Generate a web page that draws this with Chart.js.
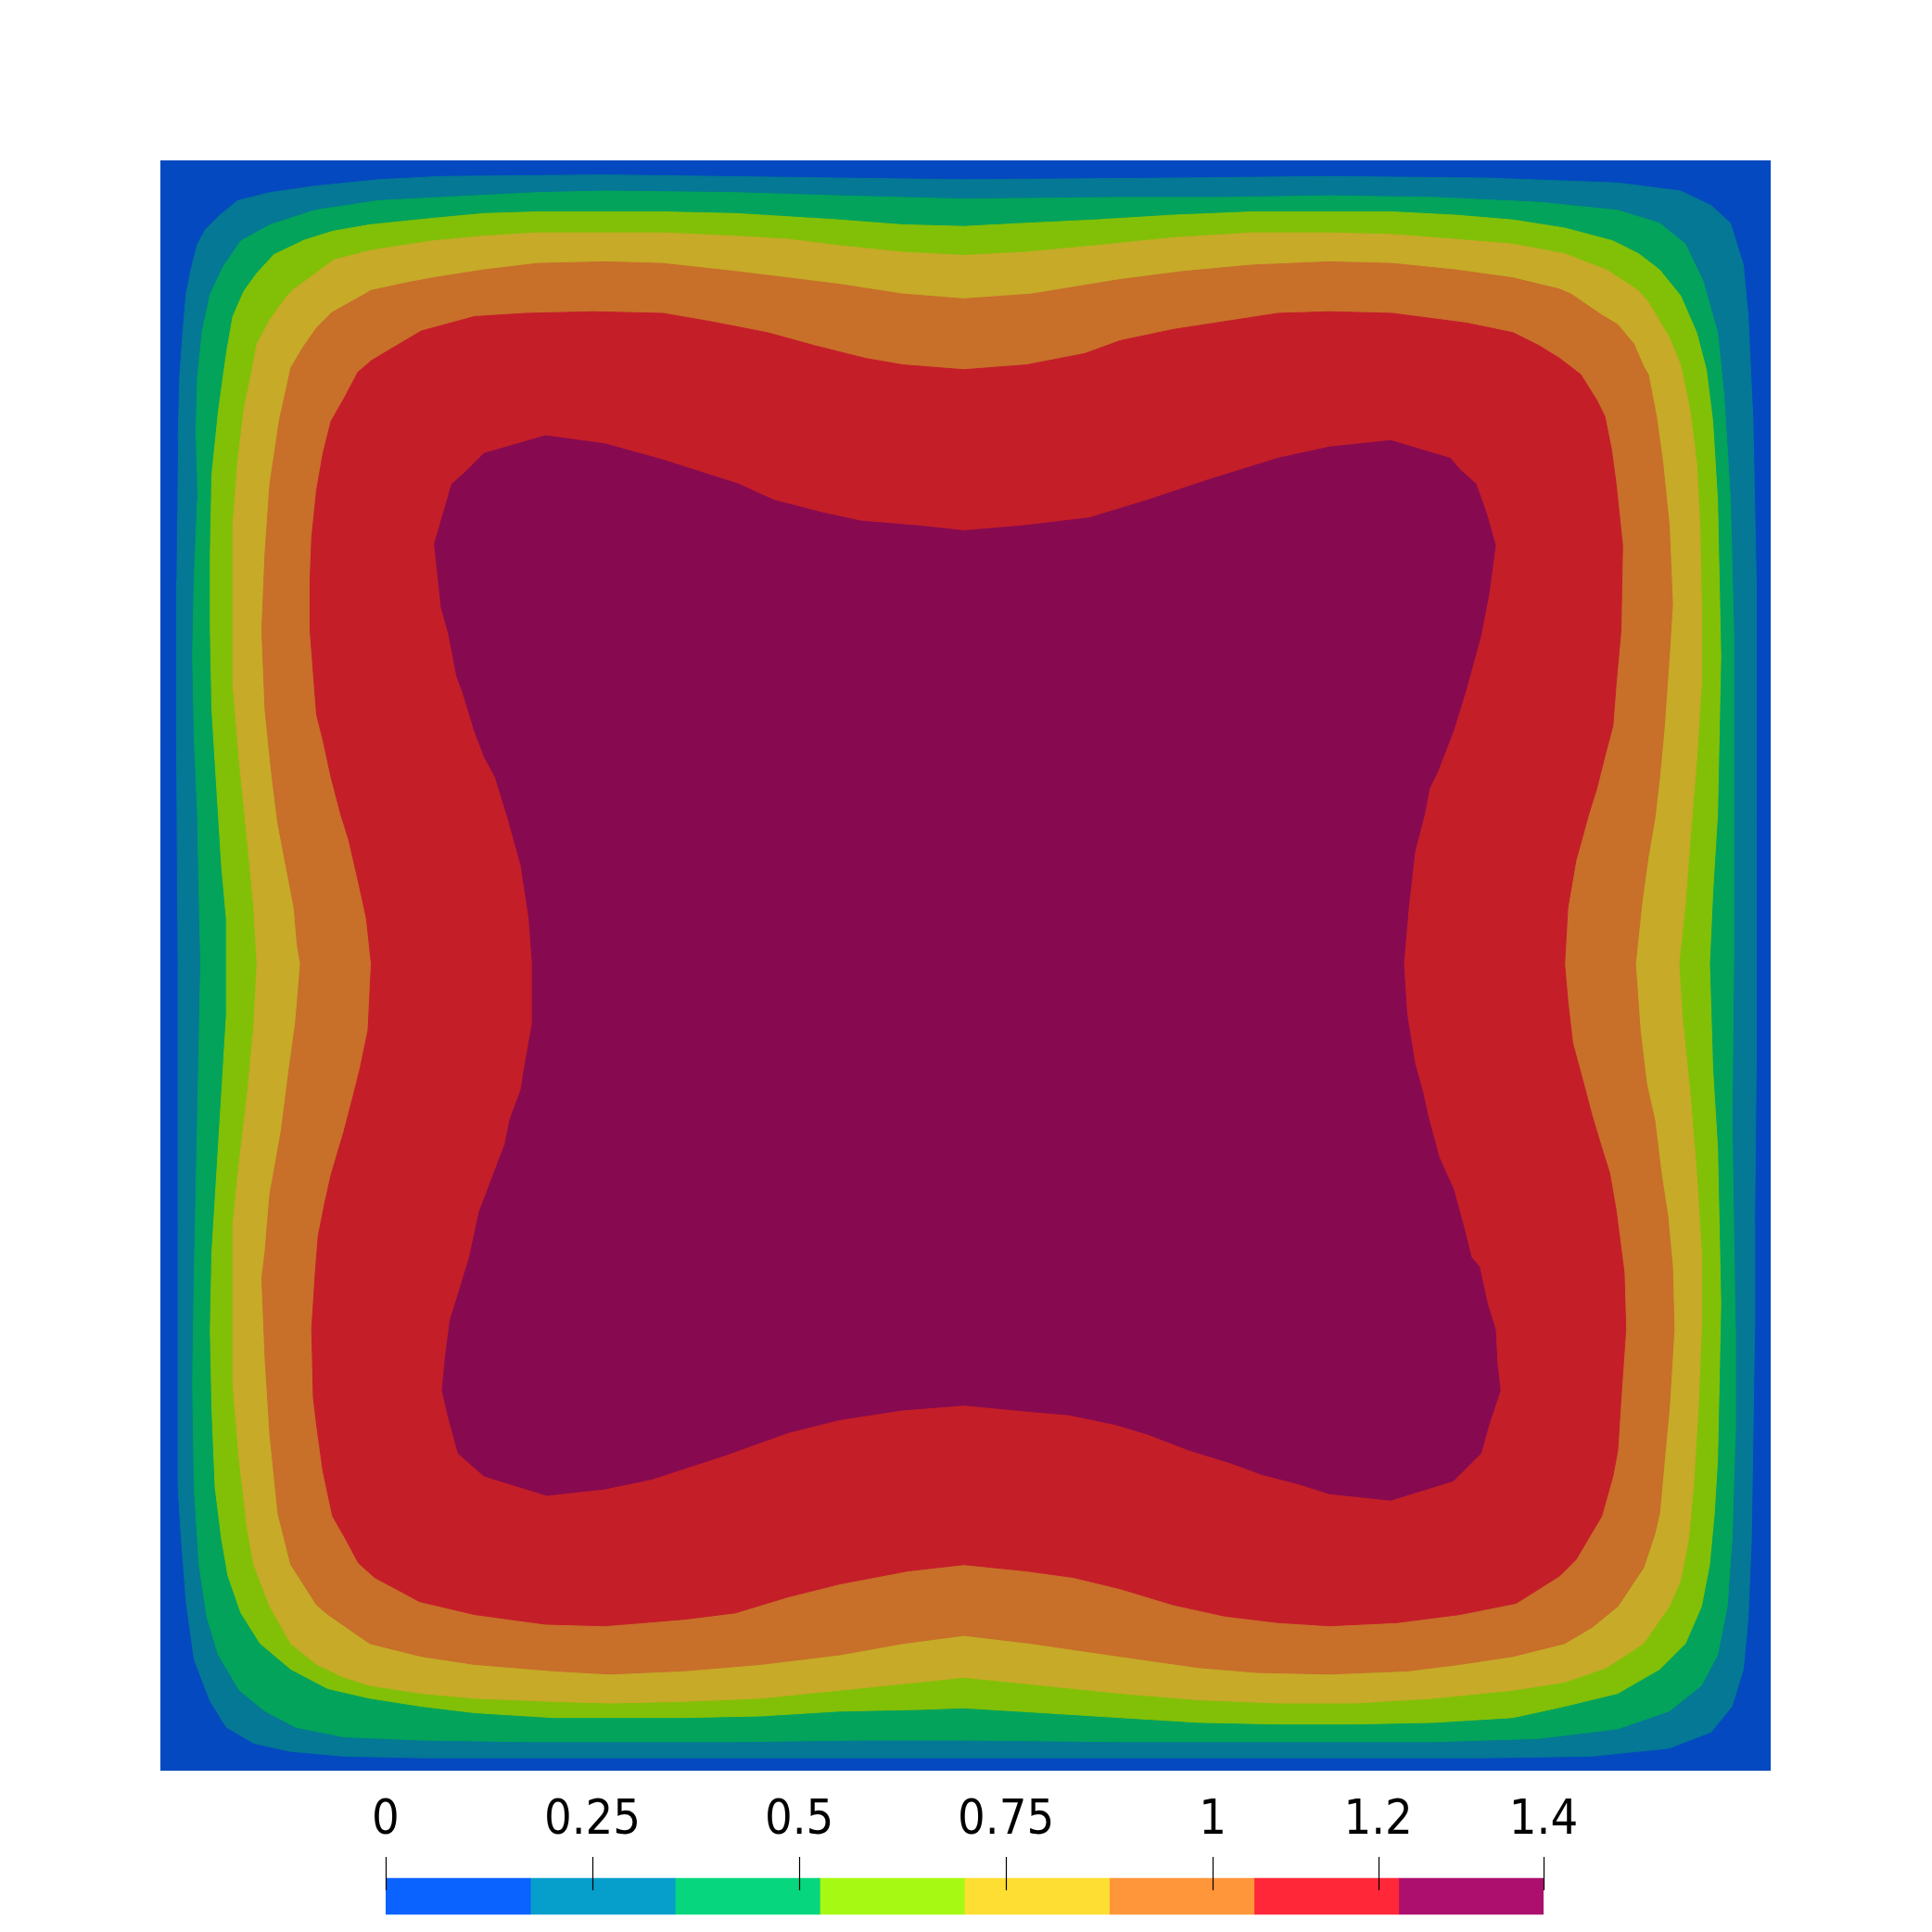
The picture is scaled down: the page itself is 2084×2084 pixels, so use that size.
<!DOCTYPE html>
<html>
<head>
<meta charset="utf-8">
<script src="https://cdn.jsdelivr.net/npm/chart.js@4.4.1/dist/chart.umd.min.js"></script>
<style>
  html, body { margin: 0; background: #fff; overflow: hidden; }
  #page { position: relative; width: 2084px; height: 2084px; }
  #field { position: absolute; left: 173px; top: 173px; }
  #bar { position: absolute; left: 316px; top: 1930px; }
</style>
</head>
<body>
<div id="page">
  <canvas id="field" width="1737" height="1737"></canvas>
  <canvas id="bar" width="1449" height="154"></canvas>
</div>
<script>
// contour levels (8 bins from 0 to 1.4)
const levels = [0, 0.175, 0.35, 0.525, 0.7, 0.875, 1.05, 1.225, 1.4];
const tickValues = [0, 0.25, 0.5, 0.75, 1, 1.2, 1.4];
const tickLabels = ['0', '0.25', '0.5', '0.75', '1', '1.2', '1.4'];

// shaded colours on the surface, and the plain ones in the colour bar
const bandColors = ['#0449bf', '#047894', '#03a35b', '#82c007', '#c6aa28', '#c86f29', '#c41e29', '#870a50'];
const barColors = ['#0a62ff', '#069ecb', '#06d67e', '#a6f912', '#ffde33', '#ff963a', '#ff2738', '#ac0f6d'];

const domain = [[0, 0], [0, 1], [1, 1], [1, 0]];

const contour0175 = [[0.011,0.826],[0.012,0.865],[0.014,0.894],[0.016,0.917],[0.019,0.932],[0.023,0.948],[0.028,0.957],[0.037,0.966],[0.048,0.975],[0.068,0.980],[0.096,0.984],[0.135,0.988],[0.174,0.990],[0.276,0.991],[0.422,0.989],[0.499,0.988],[0.629,0.989],[0.726,0.990],[0.824,0.989],[0.905,0.986],[0.944,0.981],[0.963,0.972],[0.975,0.961],[0.983,0.935],[0.986,0.903],[0.989,0.838],[0.991,0.740],[0.991,0.610],[0.991,0.501],[0.991,0.436],[0.990,0.339],[0.990,0.274],[0.989,0.209],[0.988,0.144],[0.986,0.095],[0.983,0.063],[0.976,0.040],[0.963,0.024],[0.937,0.014],[0.889,0.009],[0.824,0.008],[0.726,0.008],[0.596,0.008],[0.499,0.008],[0.357,0.008],[0.260,0.008],[0.162,0.008],[0.114,0.009],[0.081,0.012],[0.058,0.017],[0.041,0.027],[0.031,0.043],[0.021,0.069],[0.016,0.105],[0.013,0.144],[0.011,0.176],[0.011,0.274],[0.011,0.404],[0.011,0.501],[0.010,0.643],[0.010,0.740]];

const contour0350 = [[0.022,0.826],[0.023,0.865],[0.026,0.894],[0.031,0.917],[0.039,0.934],[0.050,0.950],[0.068,0.960],[0.096,0.969],[0.135,0.975],[0.174,0.977],[0.234,0.980],[0.276,0.981],[0.357,0.980],[0.422,0.978],[0.461,0.977],[0.499,0.976],[0.596,0.977],[0.661,0.977],[0.726,0.978],[0.791,0.977],[0.856,0.974],[0.905,0.969],[0.931,0.961],[0.947,0.948],[0.958,0.925],[0.967,0.893],[0.971,0.854],[0.975,0.789],[0.977,0.708],[0.977,0.610],[0.977,0.501],[0.976,0.404],[0.977,0.339],[0.978,0.274],[0.978,0.209],[0.976,0.144],[0.973,0.102],[0.967,0.072],[0.957,0.053],[0.937,0.037],[0.905,0.026],[0.856,0.020],[0.791,0.018],[0.694,0.018],[0.596,0.018],[0.499,0.019],[0.438,0.019],[0.357,0.018],[0.292,0.018],[0.227,0.018],[0.162,0.019],[0.114,0.021],[0.084,0.027],[0.065,0.037],[0.049,0.050],[0.036,0.072],[0.029,0.095],[0.024,0.128],[0.021,0.176],[0.020,0.241],[0.021,0.306],[0.023,0.404],[0.025,0.501],[0.024,0.545],[0.023,0.594],[0.021,0.643],[0.020,0.692],[0.021,0.740],[0.023,0.789]];

const contour0525 = [[0.088,0.950],[0.107,0.956],[0.130,0.960],[0.169,0.964],[0.201,0.967],[0.234,0.968],[0.276,0.968],[0.312,0.968],[0.357,0.967],[0.390,0.965],[0.422,0.963],[0.461,0.960],[0.499,0.959],[0.538,0.961],[0.580,0.963],[0.629,0.966],[0.678,0.968],[0.726,0.968],[0.765,0.968],[0.804,0.966],[0.840,0.963],[0.872,0.958],[0.902,0.950],[0.918,0.942],[0.931,0.932],[0.944,0.916],[0.954,0.893],[0.960,0.870],[0.964,0.838],[0.967,0.789],[0.968,0.740],[0.969,0.692],[0.968,0.643],[0.967,0.594],[0.964,0.545],[0.962,0.501],[0.964,0.436],[0.967,0.387],[0.968,0.339],[0.969,0.290],[0.968,0.241],[0.967,0.193],[0.965,0.160],[0.962,0.128],[0.957,0.102],[0.947,0.079],[0.931,0.063],[0.905,0.048],[0.872,0.040],[0.840,0.033],[0.791,0.030],[0.742,0.029],[0.694,0.029],[0.645,0.030],[0.596,0.033],[0.548,0.036],[0.499,0.039],[0.471,0.038],[0.422,0.037],[0.373,0.034],[0.325,0.033],[0.279,0.033],[0.244,0.033],[0.195,0.036],[0.162,0.040],[0.130,0.045],[0.104,0.051],[0.081,0.063],[0.062,0.079],[0.050,0.098],[0.042,0.121],[0.038,0.144],[0.034,0.176],[0.032,0.225],[0.031,0.274],[0.032,0.322],[0.035,0.371],[0.038,0.420],[0.041,0.469],[0.041,0.501],[0.041,0.529],[0.038,0.562],[0.035,0.610],[0.032,0.659],[0.031,0.708],[0.031,0.756],[0.032,0.805],[0.036,0.844],[0.041,0.880],[0.045,0.903],[0.052,0.919],[0.060,0.930],[0.071,0.942]];

const contour0700 = [[0.107,0.938],[0.130,0.944],[0.169,0.950],[0.201,0.953],[0.234,0.955],[0.276,0.955],[0.312,0.955],[0.357,0.953],[0.390,0.951],[0.422,0.947],[0.461,0.943],[0.499,0.941],[0.538,0.943],[0.580,0.947],[0.629,0.952],[0.678,0.955],[0.726,0.955],[0.765,0.954],[0.804,0.951],[0.840,0.948],[0.872,0.942],[0.898,0.932],[0.918,0.919],[0.924,0.912],[0.937,0.890],[0.944,0.873],[0.950,0.844],[0.954,0.812],[0.956,0.773],[0.957,0.724],[0.957,0.675],[0.954,0.627],[0.950,0.578],[0.947,0.539],[0.943,0.501],[0.945,0.469],[0.950,0.420],[0.954,0.371],[0.957,0.322],[0.957,0.274],[0.955,0.225],[0.952,0.176],[0.949,0.144],[0.944,0.118],[0.937,0.102],[0.921,0.079],[0.898,0.064],[0.872,0.055],[0.840,0.050],[0.791,0.045],[0.742,0.042],[0.694,0.042],[0.645,0.044],[0.596,0.048],[0.548,0.053],[0.499,0.058],[0.471,0.055],[0.422,0.050],[0.373,0.045],[0.325,0.043],[0.279,0.042],[0.244,0.043],[0.195,0.045],[0.162,0.048],[0.130,0.053],[0.114,0.058],[0.097,0.066],[0.081,0.079],[0.068,0.102],[0.058,0.128],[0.054,0.150],[0.049,0.193],[0.045,0.241],[0.045,0.290],[0.045,0.339],[0.049,0.378],[0.054,0.420],[0.058,0.462],[0.060,0.501],[0.058,0.536],[0.054,0.578],[0.049,0.627],[0.045,0.675],[0.045,0.724],[0.045,0.773],[0.048,0.812],[0.052,0.846],[0.057,0.870],[0.060,0.886],[0.068,0.901],[0.078,0.915],[0.084,0.921]];

const contour0875 = [[0.130,0.919],[0.153,0.924],[0.169,0.927],[0.201,0.932],[0.234,0.936],[0.276,0.937],[0.312,0.936],[0.357,0.931],[0.390,0.927],[0.422,0.923],[0.461,0.917],[0.499,0.914],[0.541,0.917],[0.596,0.926],[0.635,0.931],[0.678,0.935],[0.726,0.937],[0.765,0.936],[0.804,0.932],[0.840,0.927],[0.869,0.920],[0.876,0.917],[0.895,0.904],[0.905,0.898],[0.915,0.886],[0.921,0.872],[0.924,0.867],[0.929,0.841],[0.933,0.812],[0.937,0.773],[0.939,0.724],[0.937,0.692],[0.934,0.649],[0.931,0.617],[0.928,0.591],[0.924,0.568],[0.920,0.539],[0.916,0.501],[0.919,0.459],[0.923,0.426],[0.928,0.404],[0.932,0.371],[0.936,0.345],[0.939,0.313],[0.940,0.274],[0.937,0.225],[0.934,0.193],[0.931,0.160],[0.928,0.147],[0.921,0.126],[0.905,0.102],[0.889,0.089],[0.872,0.079],[0.840,0.071],[0.807,0.066],[0.775,0.062],[0.726,0.060],[0.681,0.061],[0.645,0.064],[0.596,0.071],[0.541,0.079],[0.499,0.084],[0.461,0.079],[0.422,0.072],[0.373,0.066],[0.325,0.062],[0.279,0.060],[0.244,0.062],[0.195,0.066],[0.162,0.071],[0.130,0.079],[0.104,0.097],[0.097,0.103],[0.081,0.128],[0.073,0.160],[0.068,0.209],[0.065,0.257],[0.063,0.306],[0.065,0.322],[0.068,0.358],[0.075,0.397],[0.080,0.436],[0.084,0.465],[0.087,0.501],[0.085,0.513],[0.083,0.536],[0.078,0.562],[0.073,0.588],[0.069,0.620],[0.065,0.659],[0.063,0.708],[0.065,0.756],[0.068,0.799],[0.074,0.839],[0.078,0.857],[0.081,0.871],[0.088,0.883],[0.097,0.896],[0.107,0.906]];

const contour1050 = [[0.130,0.875],[0.140,0.881],[0.162,0.894],[0.195,0.903],[0.227,0.905],[0.269,0.906],[0.312,0.905],[0.341,0.900],[0.377,0.893],[0.406,0.885],[0.438,0.877],[0.461,0.873],[0.499,0.870],[0.538,0.873],[0.574,0.880],[0.596,0.888],[0.629,0.895],[0.655,0.899],[0.694,0.905],[0.726,0.906],[0.765,0.905],[0.811,0.899],[0.840,0.893],[0.856,0.885],[0.869,0.877],[0.882,0.867],[0.892,0.851],[0.897,0.841],[0.901,0.821],[0.904,0.799],[0.908,0.761],[0.907,0.708],[0.904,0.675],[0.902,0.649],[0.897,0.630],[0.892,0.610],[0.887,0.594],[0.879,0.565],[0.874,0.536],[0.872,0.501],[0.874,0.478],[0.877,0.452],[0.884,0.426],[0.889,0.407],[0.895,0.387],[0.900,0.371],[0.904,0.348],[0.909,0.309],[0.910,0.274],[0.907,0.231],[0.905,0.199],[0.902,0.183],[0.895,0.158],[0.879,0.131],[0.869,0.121],[0.842,0.104],[0.807,0.097],[0.768,0.092],[0.726,0.090],[0.694,0.092],[0.661,0.096],[0.629,0.103],[0.596,0.113],[0.567,0.120],[0.538,0.124],[0.499,0.128],[0.464,0.124],[0.422,0.116],[0.390,0.108],[0.357,0.098],[0.325,0.094],[0.276,0.090],[0.239,0.091],[0.195,0.097],[0.161,0.105],[0.133,0.120],[0.123,0.129],[0.115,0.144],[0.107,0.158],[0.101,0.186],[0.097,0.215],[0.095,0.232],[0.094,0.274],[0.096,0.306],[0.098,0.332],[0.102,0.352],[0.106,0.370],[0.114,0.397],[0.120,0.420],[0.124,0.436],[0.129,0.460],[0.131,0.501],[0.128,0.529],[0.123,0.552],[0.117,0.578],[0.112,0.594],[0.106,0.617],[0.101,0.640],[0.097,0.656],[0.095,0.682],[0.093,0.708],[0.093,0.740],[0.094,0.766],[0.097,0.795],[0.101,0.818],[0.106,0.838],[0.114,0.852],[0.123,0.869]];

const contour1225 = [[0.170,0.761],[0.181,0.799],[0.189,0.806],[0.201,0.818],[0.239,0.829],[0.276,0.824],[0.312,0.814],[0.359,0.799],[0.381,0.789],[0.412,0.781],[0.435,0.776],[0.471,0.773],[0.499,0.770],[0.535,0.773],[0.577,0.778],[0.613,0.789],[0.652,0.802],[0.694,0.815],[0.726,0.822],[0.764,0.826],[0.801,0.815],[0.807,0.808],[0.817,0.799],[0.824,0.779],[0.829,0.761],[0.825,0.731],[0.820,0.705],[0.811,0.672],[0.803,0.646],[0.793,0.620],[0.788,0.610],[0.785,0.594],[0.779,0.571],[0.775,0.536],[0.772,0.501],[0.774,0.470],[0.779,0.439],[0.784,0.421],[0.787,0.407],[0.794,0.381],[0.803,0.361],[0.809,0.339],[0.814,0.319],[0.819,0.313],[0.824,0.290],[0.829,0.274],[0.830,0.254],[0.832,0.236],[0.825,0.215],[0.820,0.197],[0.803,0.180],[0.764,0.168],[0.726,0.172],[0.707,0.178],[0.684,0.184],[0.665,0.191],[0.639,0.199],[0.613,0.209],[0.593,0.215],[0.564,0.221],[0.541,0.223],[0.499,0.227],[0.461,0.224],[0.422,0.218],[0.390,0.210],[0.351,0.196],[0.305,0.181],[0.276,0.175],[0.240,0.171],[0.201,0.183],[0.185,0.197],[0.179,0.219],[0.175,0.236],[0.177,0.257],[0.180,0.280],[0.185,0.296],[0.192,0.319],[0.198,0.347],[0.214,0.389],[0.217,0.404],[0.224,0.423],[0.226,0.436],[0.231,0.464],[0.231,0.501],[0.229,0.529],[0.224,0.562],[0.216,0.591],[0.208,0.617],[0.201,0.630],[0.195,0.646],[0.188,0.669],[0.184,0.680],[0.179,0.706],[0.174,0.724]];

// outermost first; each one is painted over the previous
const bands = [domain, contour0175, contour0350, contour0525, contour0700, contour0875, contour1050, contour1225];

// chart.js paints dataset 0 last, so the innermost band goes first
const fieldDatasets = bands.map((pts, i) => ({
    data: pts.map(([x, y]) => ({ x, y })),
    showLine: true,
    fill: 'shape',
    backgroundColor: bandColors[i],
    borderColor: bandColors[i],
    borderWidth: 1,
    pointRadius: 0
})).reverse();

new Chart(document.getElementById('field'), {
    type: 'scatter',
    data: { datasets: fieldDatasets },
    options: {
        responsive: false,
        animation: false,
        events: [],
        plugins: { legend: { display: false }, tooltip: { enabled: false } },
        scales: {
            x: { type: 'linear', min: 0, max: 1, display: false },
            y: { type: 'linear', min: 0, max: 1, display: false }
        }
    }
});

// short tick marks crossing into the top of the colour bar
const tickMarks = {
    id: 'tickMarks',
    afterDatasetsDraw(chart) {
        const { ctx, scales: { x } } = chart;
        const bar = chart.getDatasetMeta(0).data[0];
        const top = bar.y - bar.height / 2;
        ctx.save();
        ctx.strokeStyle = '#000';
        ctx.lineWidth = 1.2;
        tickValues.forEach(v => {
            const px = Math.round(x.getPixelForValue(v)) + 0.5;
            ctx.beginPath();
            ctx.moveTo(px, top - 23);
            ctx.lineTo(px, top + 13);
            ctx.stroke();
        });
        ctx.restore();
    }
};

new Chart(document.getElementById('bar'), {
    type: 'bar',
    data: {
        labels: [''],
        datasets: barColors.map((c, i) => ({
            data: [[levels[i], levels[i + 1]]],
            backgroundColor: c,
            borderWidth: 0,
            barThickness: 39,
            grouped: false
        }))
    },
    options: {
        indexAxis: 'y',
        responsive: false,
        animation: false,
        events: [],
        layout: { padding: { left: 100, right: 100, top: 0, bottom: 0 } },
        plugins: { legend: { display: false }, tooltip: { enabled: false } },
        scales: {
            x: {
                type: 'linear',
                position: 'top',
                min: 0,
                max: 1.4,
                afterBuildTicks: scale => { scale.ticks = tickValues.map(v => ({ value: v })); },
                grid: { display: false, drawTicks: false },
                border: { display: false },
                ticks: {
                    padding: 11,
                    color: '#000',
                    maxRotation: 0,
                    autoSkip: false,
                    font: { family: "'Liberation Sans Narrow', 'DejaVu Sans Condensed', 'Roboto', sans-serif", size: 52 },
                    callback: (value, index) => tickLabels[index]
                }
            },
            y: { display: false }
        }
    },
    plugins: [tickMarks]
});
</script>
</body>
</html>
